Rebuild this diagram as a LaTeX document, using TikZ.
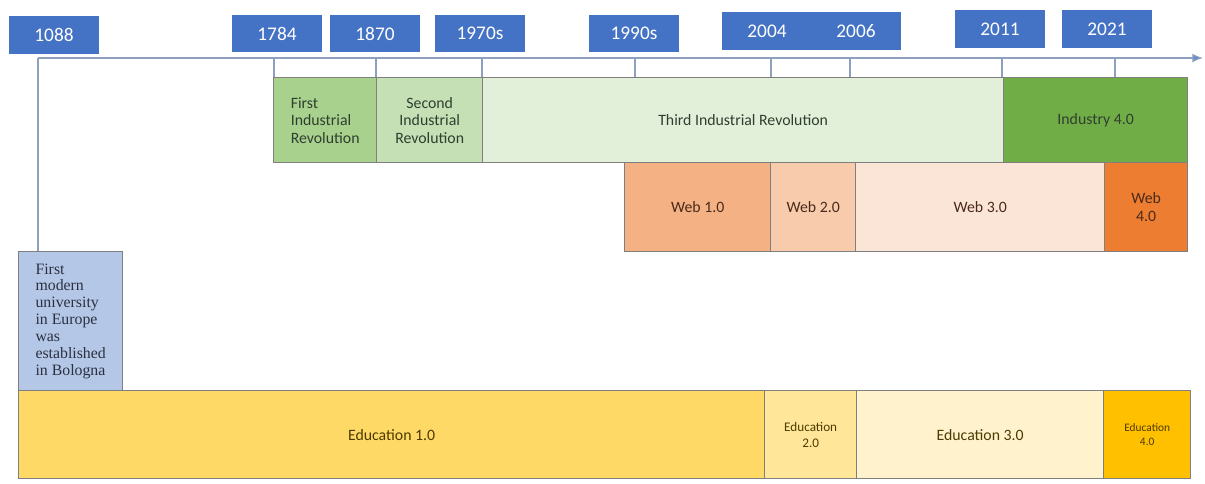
\documentclass[tikz,border=0pt]{standalone}
\usepackage{fontspec}
\setmainfont{Liberation Serif}
\setsansfont{Carlito}
\usetikzlibrary{calc, arrows.meta}

\definecolor{yearblue}{HTML}{4472C4}
\definecolor{axisgray}{HTML}{8FA0BF}
\definecolor{cellgray}{HTML}{7F7F7F}
\definecolor{indA}{HTML}{A9D18E}
\definecolor{indB}{HTML}{C5E0B4}
\definecolor{indC}{HTML}{E2F0D9}
\definecolor{indD}{HTML}{70AD47}
\definecolor{webA}{HTML}{F4B183}
\definecolor{webB}{HTML}{F8CBAD}
\definecolor{webC}{HTML}{FBE5D6}
\definecolor{webD}{HTML}{ED7D31}
\definecolor{uniblue}{HTML}{B4C7E7}
\definecolor{eduA}{HTML}{FFD966}
\definecolor{eduB}{HTML}{FFE699}
\definecolor{eduC}{HTML}{FFF2CC}
\definecolor{eduD}{HTML}{FFC000}
\definecolor{indtext}{HTML}{2F3F2F}
\definecolor{webtext}{HTML}{4A2A1A}
\definecolor{edutext}{HTML}{4D3B00}
\definecolor{unitext}{HTML}{2B3040}

\begin{document}
\begin{tikzpicture}[
        x=0.02cm, y=-0.02cm,
        year/.style={rectangle, fill=yearblue, text=white, inner sep=0pt,
            minimum width=1.8cm, minimum height=0.76cm,
            font=\sffamily\fontsize{11}{13}\selectfont},
        cell/.style={rectangle, draw=cellgray, line width=0.8pt, anchor=north west,
            inner sep=1pt, align=center,
            font=\sffamily\fontsize{9}{10}\selectfont},
        tick/.style={draw=axisgray, line width=0.6pt},
        ]

    \useasboundingbox (0,0) rectangle (1205,484);

    % year labels
    \node (Y1088) at (54, 35) [year] {1088};
    \node (Y1784) at (277, 33.5) [year] {1784};
    \node (Y1870) at (375, 33.5) [year] {1870};
    \node (Y1970s) at (480, 33.5) [year] {1970s};
    \node (Y1990s) at (634, 33.5) [year] {1990s};
    \node (Y2004) at (767, 31) [year] {2004};
    \node (Y2006) at (856, 31) [year] {2006};
    \node (Y2011) at (1000, 29) [year] {2011};
    \node (Y2021) at (1107, 29) [year] {2021};

    % industrial revolutions
    \node (IndA) at (273, 77) [cell, fill=indA, text=indtext, minimum width=2.06cm, minimum height=1.7cm, align=left]
        {First\\Industrial\\Revolution};
    \node (IndB) at (376, 77) [cell, fill=indB, text=indtext, minimum width=2.12cm, minimum height=1.7cm]
        {Second\\Industrial\\Revolution};
    \node (IndC) at (482, 77) [cell, fill=indC, text=indtext, minimum width=10.42cm, minimum height=1.7cm]
        {Third Industrial Revolution};
    \node (IndD) at (1003, 77) [cell, fill=indD, text=indtext, minimum width=3.68cm, minimum height=1.7cm]
        {Industry 4.0};

    % web
    \node (WebA) at (624, 162) [cell, fill=webA, text=webtext, minimum width=2.92cm, minimum height=1.78cm] {Web 1.0};
    \node (WebB) at (770, 162) [cell, fill=webB, text=webtext, minimum width=1.7cm, minimum height=1.78cm] {Web 2.0};
    \node (WebC) at (855, 162) [cell, fill=webC, text=webtext, minimum width=4.98cm, minimum height=1.78cm] {Web 3.0};
    \node (WebD) at (1104, 162) [cell, fill=webD, text=webtext, minimum width=1.66cm, minimum height=1.78cm] {Web\\4.0};

    % education
    \node (Bologna) at (18, 251) [cell, fill=uniblue, text=unitext, minimum width=2.08cm, minimum height=2.78cm,
        align=left, font=\rmfamily\fontsize{9}{9.6}\selectfont]
        {First\\modern\\university\\in Europe\\was\\established\\in Bologna};
    \node (EduA) at (18, 390) [cell, fill=eduA, text=edutext, minimum width=14.92cm, minimum height=1.76cm] {Education 1.0};
    \node (EduB) at (764, 390) [cell, fill=eduB, text=edutext, minimum width=1.84cm, minimum height=1.76cm,
        font=\sffamily\fontsize{7.5}{9}\selectfont] {Education\\2.0};
    \node (EduC) at (856, 390) [cell, fill=eduC, text=edutext, minimum width=4.94cm, minimum height=1.76cm] {Education 3.0};
    \node (EduD) at (1103, 390) [cell, fill=eduD, text=edutext, minimum width=1.74cm, minimum height=1.76cm,
        font=\sffamily\fontsize{6.5}{8}\selectfont] {Education\\4.0};

    % time axis and ticks
    \foreach \yr/\x in {1088/38, 1784/274, 1870/376, 1970s/482, 1990s/635,
            2004/771, 2006/850, 2011/1002, 2021/1115}
        \coordinate (T\yr) at (\x, 58);
    \coordinate (AxisEnd) at (1203, 58);

    \draw [tick, -{Latex[length=6pt, width=5pt, fill=yearblue!80]}] (T1088) -- (AxisEnd);
    \draw [tick] (T1088) -- (T1088 |- Bologna.north);
    \foreach \yr in {1784, 1870, 1970s, 1990s, 2004, 2006, 2011, 2021}
        \draw [tick] (T\yr) -- (T\yr |- IndA.north);
\end{tikzpicture}
\end{document}
